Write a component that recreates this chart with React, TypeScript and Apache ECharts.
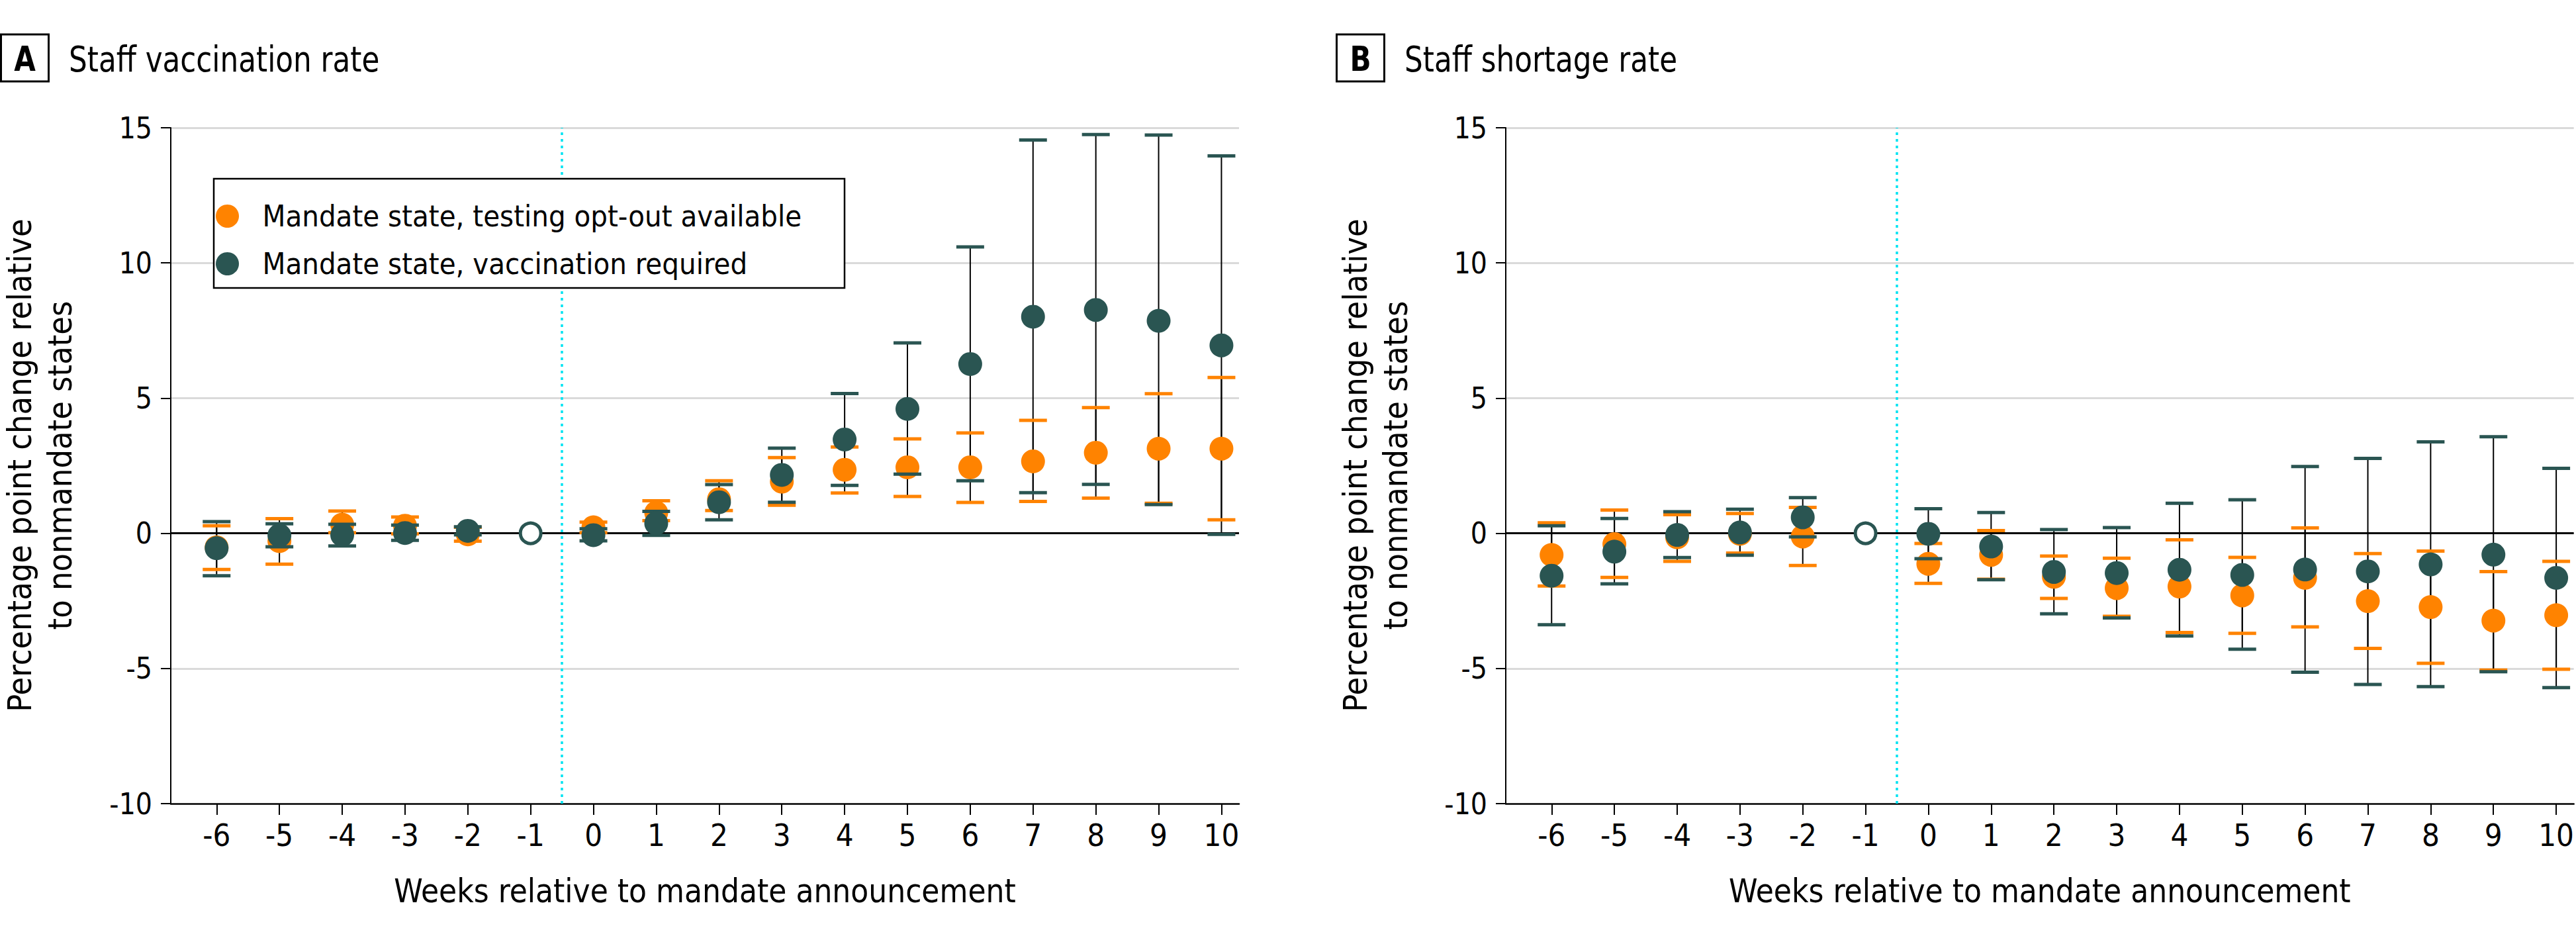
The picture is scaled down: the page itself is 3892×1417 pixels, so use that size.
import React, { useEffect, useRef } from "react";
import * as echarts from "echarts";

const FONT = "'Liberation Sans Narrow', 'DejaVu Sans Condensed', 'Roboto Condensed', 'Noto Sans', sans-serif";
const ORANGE = "#FF8300";
const DARK = "#2A5552";
const CYAN = "#00E3F2";
const GRID_GRAY = "#DADADA";

const weeks = [-6, -5, -4, -3, -2, 0, 1, 2, 3, 4, 5, 6, 7, 8, 9, 10];
const weekTicks = [-6, -5, -4, -3, -2, -1, 0, 1, 2, 3, 4, 5, 6, 7, 8, 9, 10];
const referenceWeek = -1;

const seriesNames = ["Mandate state, testing opt-out available", "Mandate state, vaccination required"];

// Panel A: Staff vaccination rate
const vaxOptOutEst = [-0.52, -0.29, 0.32, 0.28, -0.04, 0.22, 0.76, 1.26, 1.91, 2.35, 2.44, 2.44, 2.66, 2.98, 3.13, 3.13];
const vaxOptOutLo = [-1.34, -1.14, 0.02, -0.02, -0.29, 0.02, 0.47, 0.84, 1.04, 1.49, 1.36, 1.14, 1.18, 1.3, 1.11, 0.5];
const vaxOptOutHi = [0.28, 0.54, 0.82, 0.6, 0.22, 0.41, 1.2, 1.94, 2.8, 3.19, 3.49, 3.71, 4.18, 4.65, 5.16, 5.76];
const vaxReqEst = [-0.55, -0.08, -0.06, 0.01, 0.09, -0.07, 0.37, 1.15, 2.16, 3.47, 4.6, 6.26, 8.01, 8.26, 7.86, 6.95];
const vaxReqLo = [-1.57, -0.5, -0.47, -0.26, -0.06, -0.28, -0.08, 0.5, 1.15, 1.77, 2.19, 1.94, 1.5, 1.81, 1.06, -0.04];
const vaxReqHi = [0.43, 0.35, 0.33, 0.3, 0.24, 0.17, 0.81, 1.8, 3.15, 5.17, 7.04, 10.59, 14.55, 14.75, 14.73, 13.96];

// Panel B: Staff shortage rate
const shortOptOutEst = [-0.8, -0.4, -0.15, -0.02, -0.12, -1.13, -0.8, -1.61, -2.03, -1.97, -2.3, -1.65, -2.51, -2.73, -3.23, -3.03];
const shortOptOutLo = [-1.95, -1.63, -1.04, -0.73, -1.19, -1.85, -1.7, -2.41, -3.07, -3.67, -3.7, -3.46, -4.26, -4.81, -5.06, -5.03];
const shortOptOutHi = [0.39, 0.86, 0.69, 0.73, 0.96, -0.38, 0.1, -0.84, -0.92, -0.24, -0.89, 0.2, -0.75, -0.66, -1.42, -1.04];
const shortReqEst = [-1.57, -0.68, -0.06, 0.03, 0.59, -0.02, -0.49, -1.43, -1.47, -1.35, -1.54, -1.34, -1.41, -1.15, -0.79, -1.65];
const shortReqLo = [-3.38, -1.87, -0.9, -0.81, -0.13, -0.94, -1.72, -2.98, -3.13, -3.8, -4.29, -5.14, -5.59, -5.67, -5.12, -5.71];
const shortReqHi = [0.28, 0.55, 0.8, 0.89, 1.32, 0.91, 0.77, 0.14, 0.21, 1.11, 1.24, 2.47, 2.77, 3.38, 3.57, 2.4];

const XMIN = -6.73;
const XMAX = 10.28;

function ciData(lo: number[], hi: number[]) {
  return weeks.map((w, i) => [w, lo[i], hi[i]]);
}
function estData(est: number[]) {
  return weeks.map((w, i) => [w, est[i]]);
}

function whiskerRender(params: any, api: any) {
  const x = api.value(0);
  const p1 = api.coord([x, api.value(1)]);
  const p2 = api.coord([x, api.value(2)]);
  return {
    type: "line",
    shape: { x1: p1[0], y1: p1[1], x2: p2[0], y2: p2[1] },
    style: { stroke: "#000", lineWidth: 2 },
  };
}
function capRender(color: string) {
  return (params: any, api: any) => {
    const x = api.value(0);
    const p1 = api.coord([x, api.value(1)]);
    const p2 = api.coord([x, api.value(2)]);
    return {
      type: "group",
      children: [
        { type: "rect", shape: { x: p1[0] - 21, y: p1[1] - 2.5, width: 42, height: 5 }, style: { fill: color } },
        { type: "rect", shape: { x: p2[0] - 21, y: p2[1] - 2.5, width: 42, height: 5 }, style: { fill: color } },
      ],
    };
  };
}

function panelSeries(gi: number, oEst: number[], oLo: number[], oHi: number[], dEst: number[], dLo: number[], dHi: number[]) {
  return [
    {
      type: "custom",
      xAxisIndex: gi,
      yAxisIndex: gi,
      renderItem: whiskerRender,
      encode: { x: 0, y: [1, 2] },
      data: [...ciData(oLo, oHi), ...ciData(dLo, dHi)],
      silent: true,
      z: 2,
    },
    {
      type: "custom",
      xAxisIndex: gi,
      yAxisIndex: gi,
      renderItem: capRender(ORANGE),
      encode: { x: 0, y: [1, 2] },
      data: ciData(oLo, oHi),
      silent: true,
      z: 3,
    },
    {
      type: "scatter",
      name: seriesNames[0],
      xAxisIndex: gi,
      yAxisIndex: gi,
      symbol: "circle",
      symbolSize: 36,
      itemStyle: { color: ORANGE, opacity: 1 },
      data: estData(oEst),
      z: 4,
    },
    {
      type: "custom",
      xAxisIndex: gi,
      yAxisIndex: gi,
      renderItem: capRender(DARK),
      encode: { x: 0, y: [1, 2] },
      data: ciData(dLo, dHi),
      silent: true,
      z: 5,
    },
    {
      type: "scatter",
      name: seriesNames[1],
      xAxisIndex: gi,
      yAxisIndex: gi,
      symbol: "circle",
      symbolSize: 36,
      itemStyle: { color: DARK, opacity: 1 },
      data: estData(dEst),
      z: 6,
    },
    {
      type: "scatter",
      name: "reference",
      xAxisIndex: gi,
      yAxisIndex: gi,
      symbol: "circle",
      symbolSize: 31,
      itemStyle: { color: "#fff", borderColor: DARK, borderWidth: 5, opacity: 1 },
      data: [[referenceWeek, 0]],
      z: 7,
      markLine: {
        silent: true,
        symbol: "none",
        label: { show: false },
        lineStyle: { color: CYAN, width: 3.5, type: [4, 6] },
        data: [{ xAxis: -0.5 }],
      },
    },
  ];
}

function axisPair(gi: number) {
  return {
    x: {
      type: "value",
      gridIndex: gi,
      min: XMIN,
      max: XMAX,
      name: "Weeks relative to mandate announcement",
      nameLocation: "middle",
      nameGap: 108,
      nameTextStyle: { fontFamily: FONT, fontSize: 49, color: "#000" },
      axisLine: { show: true, onZero: false, lineStyle: { color: "#000", width: 2.5 } },
      axisTick: { show: true, length: 17, lineStyle: { color: "#000", width: 2 }, customValues: weekTicks },
      axisLabel: { show: true, fontFamily: FONT, fontSize: 47, color: "#000", margin: 24, customValues: weekTicks },
      splitLine: { show: false },
    },
    y: {
      type: "value",
      gridIndex: gi,
      min: -10,
      max: 15,
      interval: 5,
      axisLine: { show: true, onZero: false, lineStyle: { color: "#000", width: 2 } },
      axisTick: { show: true, length: 15, lineStyle: { color: "#000", width: 2 } },
      axisLabel: { show: true, fontFamily: FONT, fontSize: 44, color: "#000", margin: 28 },
      splitLine: {
        show: true,
        lineStyle: { color: ["transparent", GRID_GRAY, "#000", GRID_GRAY, GRID_GRAY, GRID_GRAY], width: 3 },
      },
    },
  };
}

function titleGraphics(ox: number, letter: string, title: string, titleScale: number) {
  return [
    {
      type: "rect",
      shape: { x: ox + 1.5, y: 52, width: 72, height: 71 },
      style: { fill: "#fff", stroke: "#000", lineWidth: 3 },
      z: 20,
    },
    {
      type: "text",
      x: ox + 37.5,
      y: 89,
      scaleX: 0.9,
      style: { text: letter, font: `bold 52px ${FONT}`, fill: "#000", textAlign: "center", textVerticalAlign: "middle" },
      z: 21,
    },
    {
      type: "text",
      x: ox + 104,
      y: 89,
      scaleX: titleScale,
      style: { text: title, font: `54px ${FONT}`, fill: "#000", textAlign: "left", textVerticalAlign: "middle" },
      z: 21,
    },
    {
      type: "text",
      x: ox + 60,
      y: 703,
      rotation: Math.PI / 2,
      style: {
        text: "Percentage point change relative\nto nonmandate states",
        font: `50px ${FONT}`,
        lineHeight: 61,
        fill: "#000",
        textAlign: "center",
        textVerticalAlign: "middle",
      },
      z: 21,
    },
  ];
}

export default function App() {
  const ref = useRef<HTMLDivElement>(null);
  useEffect(() => {
    if (!ref.current) return;
    const chart = echarts.init(ref.current, undefined, { renderer: "svg" });
    const a = axisPair(0);
    const b = axisPair(1);
    const option: any = {
      animation: false,
      backgroundColor: "#fff",
      grid: [
        { left: 258, right: 2020, top: 193, bottom: 203, containLabel: false },
        { left: 2275, right: 2, top: 193, bottom: 203, containLabel: false },
      ],
      xAxis: [a.x, b.x],
      yAxis: [a.y, b.y],
      legend: {
        show: true,
        data: seriesNames,
        orient: "vertical",
        left: 326,
        top: 304,
        padding: 0,
        itemWidth: 96,
        itemHeight: 35,
        itemGap: 27,
        icon: "circle",
        selectedMode: false,
        textStyle: { fontFamily: FONT, fontSize: 45, color: "#000" },
        z: 30,
      },
      graphic: [
        {
          type: "rect",
          shape: { x: 323, y: 270, width: 953, height: 165 },
          style: { fill: "#fff", stroke: "#000", lineWidth: 2.5 },
          z: 25,
        },
        ...titleGraphics(0, "A", "Staff vaccination rate", 0.9),
        ...titleGraphics(2018, "B", "Staff shortage rate", 0.9),
      ],
      series: [
        ...panelSeries(0, vaxOptOutEst, vaxOptOutLo, vaxOptOutHi, vaxReqEst, vaxReqLo, vaxReqHi),
        ...panelSeries(1, shortOptOutEst, shortOptOutLo, shortOptOutHi, shortReqEst, shortReqLo, shortReqHi),
      ],
    };
    chart.setOption(option);
    return () => chart.dispose();
  }, []);
  return <div ref={ref} style={{ position: "fixed", left: 0, top: 0, width: 3892, height: 1417, background: "#fff" }} />;
}
